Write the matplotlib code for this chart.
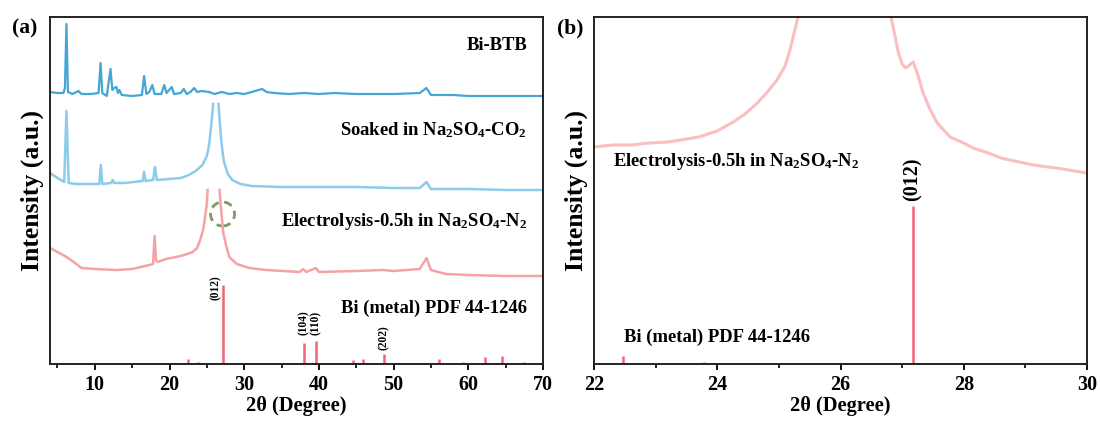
import numpy as np
import matplotlib
matplotlib.use("Agg")
import matplotlib.pyplot as plt
from matplotlib.patches import Ellipse
from matplotlib.ticker import MultipleLocator

plt.rcParams['font.family'] = ['Liberation Serif', 'DejaVu Serif']
plt.rcParams['font.weight'] = 'bold'
plt.rcParams['mathtext.fontset'] = 'custom'
plt.rcParams['mathtext.rm'] = 'Liberation Serif:bold'
plt.rcParams['mathtext.bf'] = 'Liberation Serif:bold'
plt.rcParams['mathtext.it'] = 'Liberation Serif:bold'

# ---------------- data (panel a) ----------------
btb_x = [4.0, 5.0, 5.8, 6.0, 6.2, 6.4, 7.0, 7.8, 8.2, 9.5, 10.5, 10.77, 11.0, 11.6, 12.1, 12.35,
         12.6, 12.9, 13.1, 13.3, 13.6, 15.0, 16.3, 16.6, 16.9, 17.3, 17.7, 18.0, 18.9, 19.3,
         19.6, 20.3, 20.6, 21.5, 21.9, 22.3, 22.8, 23.3, 23.7, 24.3, 25.3, 26.0, 27.0, 28.0,
         29.0, 30.0, 31.0, 32.4, 33.0, 34.0, 36.0, 38.0, 40.0, 42.0, 45.0, 48.0, 50.0, 53.5,
         54.4, 55.0, 58.0, 60.0, 65.0, 70.0]
btb_y = [272, 271, 271, 276, 340, 272, 270, 273, 270, 270, 271, 301, 271, 268, 295, 274,
         276, 277, 271, 274, 269, 268, 269, 288, 270, 272, 279, 270, 270, 279,
         271, 277, 270, 271, 275, 270, 272, 276, 272, 273, 272, 270, 272, 270,
         271, 270, 272, 275, 272, 271, 270, 271, 270, 271, 270, 270, 270, 271,
         276, 269, 269, 268, 268, 268]

soak_x = [4.0, 5.0, 5.9, 6.2, 6.5, 7.5, 9.0, 10.6, 10.8, 11.0, 12.2, 12.4, 12.6, 14.0, 16.4,
          16.6, 16.8, 17.8, 18.05, 18.3, 20.0, 21.5, 22.6, 23.5, 24.4, 25.0, 25.3, 25.6, 25.85,
          np.nan, 26.55, 26.75, 26.9, 27.1, 27.3, 27.8, 28.4, 29.5, 31.0, 35.0, 40.0, 45.0,
          50.0, 53.5, 54.4, 55.0, 60.0, 65.0, 70.0]
soak_y = [191, 186, 182, 253, 181, 180, 180, 180, 199, 180, 181, 184, 181, 181, 183,
          192, 183, 184, 197, 184, 185, 186, 189, 193, 199, 208, 219, 240, 260,
          np.nan, 260, 240, 226, 212, 202, 190, 184, 180, 178, 177, 177, 177,
          176, 176, 182, 175, 175, 174, 174]

elec_x = [4.0, 5.0, 6.0, 7.0, 8.2, 10.0, 12.8, 15.0, 17.3, 17.8, 18.0, 18.2, 18.4, 19.5, 20.9,
          22.0, 23.1, 23.7, 24.1, 24.5, 24.7, 25.0, 25.1, np.nan, 26.7, 26.9, 27.2, 27.6,
          28.0, 29.0, 30.7, 33.0, 37.4, 37.9, 38.3, 39.6, 40.0, 45.0, 48.6, 50.0, 53.5,
          54.4, 55.0, 57.0, 60.0, 65.0, 70.0]
elec_y = [116, 112, 108, 103, 96, 95, 94, 95, 99, 100, 128, 104, 102, 105, 107,
          109, 112, 116, 124, 134, 144, 160, 174, np.nan, 174, 155, 131, 118,
          107, 100, 96, 94, 92, 95, 92, 96, 92, 93, 94, 93, 95,
          106, 94, 90, 89, 88, 88]

pdf_pos = [22.47, 23.79, 27.17, 37.95, 39.62, 44.56, 45.87, 48.70, 56.05, 59.34, 62.19, 64.52, 67.52]
pdf_h_a = [5, 2, 79, 21, 23, 4, 5, 10, 5, 2, 7, 8, 2]
hkl_labels = ['(012)', '(104)', '(110)', '(202)']
hkl_pos = [27.17, 37.95, 39.62, 48.70]

# ---------------- data (panel b) ----------------
zoom_x = [22.0, 22.3, 22.6, 22.9, 23.2, 23.5, 23.7, 24.0, 24.26, 24.45, 24.65, 24.8, 24.97,
          25.1, 25.18, 25.31, np.nan, 26.82, 26.94, 27.0, 27.06, 27.12, 27.18, 27.25, 27.34,
          27.45, 27.57, 27.78, 28.0, 28.15, 28.4, 28.6, 28.9, 29.13, 29.5, 29.8, 30.0]
zoom_y = [217, 219, 219, 221, 222, 225, 227, 233, 242, 250, 261, 271, 284,
          298, 314, 347, np.nan, 347, 311, 300, 296, 299, 302, 290, 271,
          255, 241, 227, 221, 216, 211, 206, 202, 199, 196, 193, 191]
pdf_pos_b = [22.47, 23.79, 27.17]
pdf_h_b = [8, 2, 158]

# ---------------- styling ----------------
c_btb = '#44a6d4'
c_soak = '#8ccbea'
c_elec = '#f5a2a6'
c_elec_b = '#f9bfc1'
c_pdf = '#f06478'
fs = 13.4

fig = plt.figure(figsize=(11, 4.21), dpi=100)
axa = fig.add_axes([50/1100, 1-364/421, 493/1100, 347/421])
axb = fig.add_axes([594/1100, 1-364/421, 493/1100, 347/421])

for ax in (axa, axb):
    for s in ax.spines.values():
        s.set_linewidth(1.4)
        s.set_color('#222222')
    ax.set_yticks([])
    ax.tick_params(axis='x', which='major', direction='out', length=4, width=1.3,
                   labelsize=14.5, pad=4)
    ax.tick_params(axis='x', which='minor', direction='out', length=3, width=1.2)
    ax.set_ylim(0, 347)
    ax.set_xlabel(r'2θ (Degree)', fontsize=14.7, fontweight='bold', labelpad=1)
    ax.set_ylabel('Intensity (a.u.)', fontsize=18.5, fontweight='bold', labelpad=4)

# panel a
axa.set_xlim(4, 70)
axa.xaxis.set_major_locator(MultipleLocator(10))
axa.xaxis.set_minor_locator(MultipleLocator(5))
axa.plot(btb_x, btb_y, color=c_btb, lw=1.6)
axa.plot(soak_x, soak_y, color=c_soak, lw=1.8)
axa.plot(elec_x, elec_y, color=c_elec, lw=1.8)
axa.vlines(pdf_pos, 0, pdf_h_a, color=c_pdf, lw=1.8)
axa.add_patch(Ellipse((27.1, 150), 24/7.45, 24, fill=False, ls=(0, (3, 2)),
                      lw=2, edgecolor='#7a9a6a'))
lab_off = {'(012)': (-0.95, 64), '(104)': (0, 29), '(110)': (0, 29), '(202)': (0, 14)}
for t, p in zip(hkl_labels, hkl_pos):
    dx, yb = lab_off[t]
    axa.text(p + dx, yb, t, rotation=90, ha='center', va='bottom', fontsize=8.3,
             fontweight='bold')

tx = (527-50)/493
axa.text(tx, 1-(46-17)/347, 'Bi-BTB', transform=axa.transAxes, ha='right', va='center',
         fontsize=fs, fontweight='bold')
axa.text(tx, 1-(130-17)/347, r'Soaked in Na$_2$SO$_4$-CO$_2$', transform=axa.transAxes,
         ha='right', va='center', fontsize=fs, fontweight='bold')
axa.text(tx, 1-(222-17)/347, r'Electrolysis-0.5h in Na$_2$SO$_4$-N$_2$',
         transform=axa.transAxes, ha='right', va='center', fontsize=fs, fontweight='bold')
axa.text(tx, 1-(308-17)/347, 'Bi (metal) PDF 44-1246', transform=axa.transAxes,
         ha='right', va='center', fontsize=fs, fontweight='bold')

# panel b
axb.set_xlim(22, 30)
axb.xaxis.set_major_locator(MultipleLocator(2))
axb.xaxis.set_minor_locator(MultipleLocator(1))
axb.plot(zoom_x, zoom_y, color=c_elec_b, lw=2.2)
axb.vlines(pdf_pos_b, 0, pdf_h_b, color=c_pdf, lw=1.8)
axb.text(27.17, 163, '(012)', rotation=90, ha='center', va='bottom', fontsize=14.5,
         fontweight='bold')
axb.text((613-594)/493, 1-(162-17)/347, r'Electrolysis-0.5h in Na$_2$SO$_4$-N$_2$',
         transform=axb.transAxes, ha='left', va='center', fontsize=fs, fontweight='bold')
axb.text((624-594)/493, 1-(337-17)/347, 'Bi (metal) PDF 44-1246', transform=axb.transAxes,
         ha='left', va='center', fontsize=fs, fontweight='bold')

for ax in (axa, axb):
    for lab in ax.get_xticklabels():
        lab.set_fontweight('bold')

fig.text(12/1100, 1-28/421, '(a)', fontsize=15.5, fontweight='bold', ha='left', va='center')
fig.text(557/1100, 1-28/421, '(b)', fontsize=15.5, fontweight='bold', ha='left', va='center')

fig.savefig('out.png', dpi=100)
